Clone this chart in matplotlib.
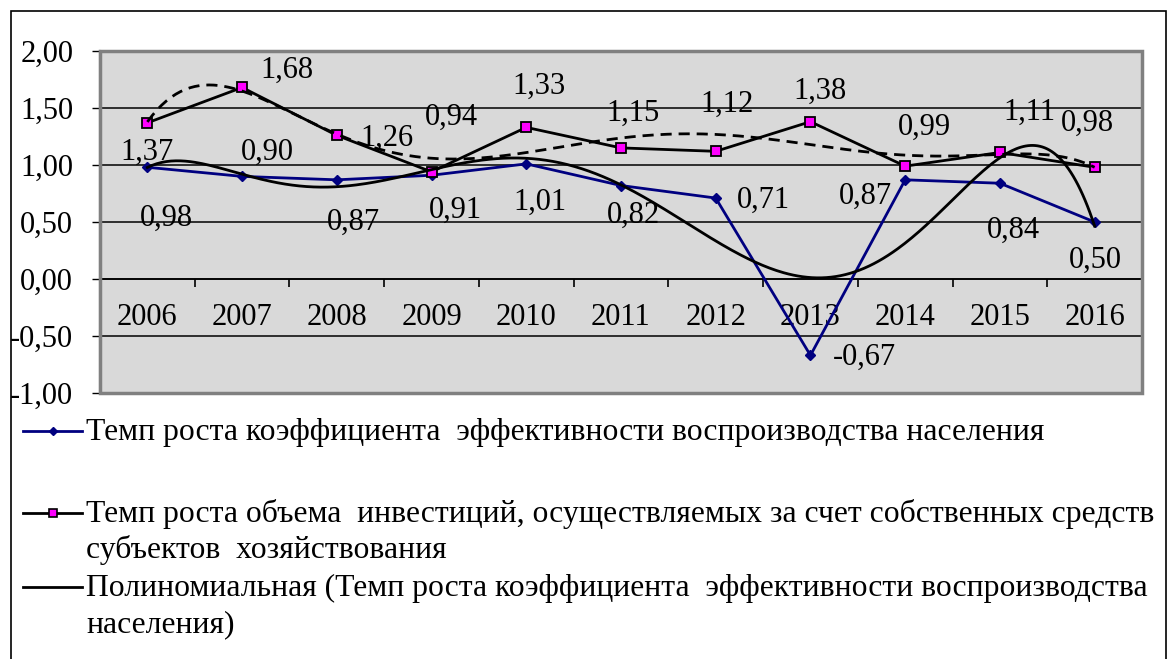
import matplotlib
matplotlib.use("Agg")
import matplotlib.pyplot as plt
import numpy as np
from matplotlib.lines import Line2D
from matplotlib.patches import Rectangle
from matplotlib.ticker import FixedLocator, FuncFormatter, MultipleLocator

plt.rcParams["font.family"] = ["Liberation Serif", "DejaVu Serif"]

# --- data ---
years = ["2006", "2007", "2008", "2009", "2010", "2011", "2012", "2013", "2014", "2015", "2016"]
coef = [0.98, 0.90, 0.87, 0.91, 1.01, 0.82, 0.71, -0.67, 0.87, 0.84, 0.50]
invest = [1.37, 1.68, 1.26, 0.94, 1.33, 1.15, 1.12, 1.38, 0.99, 1.11, 0.98]

label_coef = "Темп роста коэффициента  эффективности воспроизводства населения"
label_inv = ("Темп роста объема  инвестиций, осуществляемых за счет собственных средств\n"
             "субъектов  хозяйствования")
label_trend = ("Полиномиальная (Темп роста коэффициента  эффективности воспроизводства\n"
               "населения)")

# data-label offsets from each point, in pixels (as Excel placed them)
off_coef = [(19, -51), (25, 24), (17, -43), (24, -35), (14, -38), (12, -30),
            (48, -2), (54, -2), (-40, -17), (14, -47), (1, -38)]
off_inv = [(0, -30), (45, 17), (50, -3), (20, 55), (13, 41), (12, 35),
           (11, 47), (10, 30), (19, 39), (30, 40), (-7, 44)]

NAVY = "#000080"
MAGENTA = "#ff00ff"
PLOT_BG = "#d9d9d9"
FRAME = "#808080"
FS = 22
LEG_FS = 22.8

W, H = 1168, 659


def fx(px):
    return px / W


def fy(py):
    return 1 - py / H


def fmt(v):
    return f"{v:.2f}".replace(".", ",")


fig = plt.figure(figsize=(W / 100, H / 100), dpi=100, facecolor="white")
ax = fig.add_axes([fx(100), fy(393), (1142 - 100) / W, (393 - 51) / H])
ax.set_facecolor(PLOT_BG)

xi = np.arange(len(years))
xs = np.linspace(0, len(years) - 1, 400)
trend_coef = np.polyval(np.polyfit(xi, coef, 6), xs)
trend_inv = np.polyval(np.polyfit(xi, invest, 6), xs)

ax.plot(xi, coef, color=NAVY, lw=2, marker="D", ms=5.5, mfc=NAVY, mec=NAVY, zorder=3)
ax.plot(xi, invest, color="black", lw=2, marker="s", ms=6.5, mfc=MAGENTA,
        mec="black", mew=1.3, zorder=3)
ax.plot(xs, trend_coef, color="black", lw=2, zorder=4)
ax.plot(xs, trend_inv, color="black", lw=2, ls=(0, (4, 2.5)), zorder=4)

for i, v in enumerate(coef):
    ax.annotate(fmt(v), (i, v), xytext=off_coef[i], textcoords="offset pixels",
                ha="center", va="center", fontsize=FS, zorder=5)
for i, v in enumerate(invest):
    ax.annotate(fmt(v), (i, v), xytext=off_inv[i], textcoords="offset pixels",
                ha="center", va="center", fontsize=FS, zorder=5)

ax.set_xlim(-0.5, len(years) - 0.5)
ax.set_ylim(-1, 2)

# y axis
ax.yaxis.set_major_locator(MultipleLocator(0.5))
ax.yaxis.set_major_formatter(FuncFormatter(lambda v, _: fmt(v)))
ax.tick_params(axis="y", direction="out", length=5.8, width=1, pad=13.5,
               labelsize=FS, colors="black")
ax.yaxis.grid(True, color="black", lw=1.1)
ax.set_axisbelow(True)

# category axis sits on the zero line
ax.spines["bottom"].set_position(("data", 0))
ax.spines["bottom"].set_color("black")
ax.spines["bottom"].set_linewidth(1.2)
ax.set_xticks(xi, years)
ax.xaxis.set_minor_locator(FixedLocator(np.arange(-0.5, len(years), 1.0)))
ax.tick_params(axis="x", which="major", length=0, pad=17.5, labelsize=FS)
ax.tick_params(axis="x", which="minor", direction="out", length=5.8, width=1.2)
for side in ("top", "right"):
    ax.spines[side].set_visible(False)
ax.spines["left"].set_color("#404040")
ax.spines["left"].set_linewidth(1.5)

ax.add_patch(Rectangle((0, 0), 1, 1, transform=ax.transAxes, fill=False,
                       edgecolor=FRAME, lw=2.5, clip_on=False, zorder=6))

# legend, drawn by hand like Excel's wrapped entries
rows = [
    (label_coef, 440, dict(color=NAVY, marker="D", ms=4, mfc=NAVY, mec=NAVY)),
    (label_inv, 522, dict(color="black", marker="s", ms=5.5, mfc=MAGENTA, mec="black", mew=1.2)),
    (label_trend, 596, dict(color="black")),
]
for text, base, style in rows:
    ly = fy(base - 9)
    kw = dict(style)
    marker = kw.pop("marker", None)
    ms = kw.pop("ms", None)
    mfc = kw.pop("mfc", None)
    mec = kw.pop("mec", None)
    mew = kw.pop("mew", 1)
    fig.add_artist(Line2D([fx(23), fx(82)], [ly, ly], transform=fig.transFigure, lw=2, **kw))
    if marker:
        fig.add_artist(Line2D([fx(52.5)], [ly], transform=fig.transFigure, marker=marker,
                              ms=ms, mfc=mfc, mec=mec, mew=mew, lw=0))
    for k, line in enumerate(text.split("\n")):
        fig.text(fx(86), fy(base + 36 * k), line, fontsize=LEG_FS, va="baseline", ha="left")

# outer chart border (continues below the crop)
fig.add_artist(Rectangle((fx(11), -0.05), (1166 - 11) / W, fy(11) + 0.05,
                         transform=fig.transFigure, fill=False, edgecolor="black", lw=1.2))

fig.savefig("out.png", dpi=100, facecolor="white")
